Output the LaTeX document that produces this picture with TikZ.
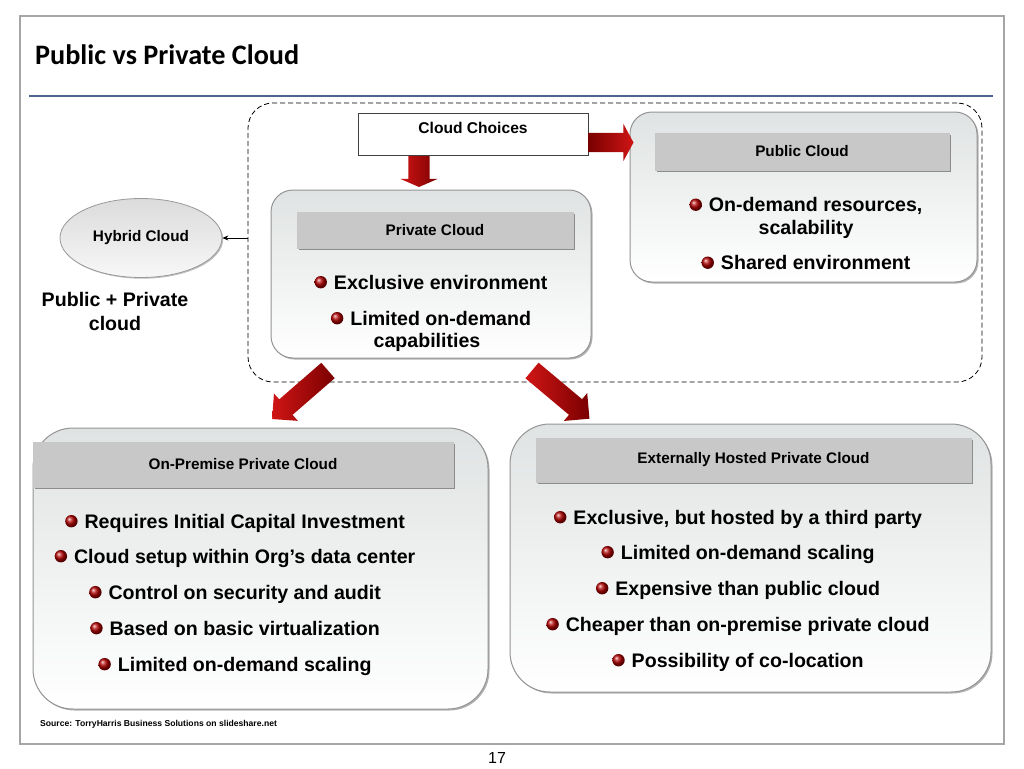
\documentclass[tikz,border=0pt]{standalone}
\usepackage{fontspec}
\setmainfont{Liberation Sans}
\newfontfamily\titlefont{Carlito}
\usetikzlibrary{shapes.geometric,shapes.arrows,shadows,calc,arrows.meta}
\definecolor{framegray}{HTML}{A6A6A6}
\definecolor{rulecol}{HTML}{4A6590}
\definecolor{boxtop}{HTML}{E0E3E3}
\definecolor{hdrfill}{HTML}{C8C8C8}
\definecolor{arrdark}{HTML}{7A0000}
\definecolor{arrlight}{HTML}{D01515}
\definecolor{ballred}{HTML}{B00000}
\newcommand{\rball}{\tikz[x=1pt,y=1pt,baseline=-6.8pt]\shade[ball color=ballred] (0,0) circle (6.2pt);\hspace{7pt}}
\begin{document}
\begin{tikzpicture}[x=1pt,y=-1pt,
  panel/.style={rectangle, rounded corners=#1, draw=black!42, line width=1pt,
    top color=boxtop, bottom color=white,
    drop shadow={shadow xshift=1.5pt, shadow yshift=-1.5pt, opacity=0.3, fill=black},
    inner sep=0pt},
  header/.style={rectangle, fill=hdrfill, draw=black!22, line width=0.8pt,
    drop shadow={shadow xshift=1.5pt, shadow yshift=-1.5pt, fill=black!45, opacity=1},
    font=\fontsize{15.3}{18}\selectfont\bfseries, inner sep=0pt},
  item/.style={font=\fontsize{19.6}{23}\selectfont\bfseries, anchor=base, inner sep=0pt},
  blockarrow/.style={single arrow, draw=none, minimum height=#1, inner xsep=0pt, outer sep=0pt, anchor=tail},
  arrowgrad/.style={shading=axis, left color=#1, right color=arrdark}
]
\useasboundingbox (0,0) rectangle (1024,768);
% slide frame and title
\draw[framegray, line width=2pt] (20,16) rectangle (1004,744);
\node[anchor=base west, inner sep=0pt, font=\titlefont\fontsize{28.2}{32}\selectfont\bfseries] (title) at (35,64) {Public vs Private Cloud};
\draw[rulecol, line width=1.2pt] (29,96) -- (993,96);

% dashed group
\node[draw, dashed, dash pattern=on 5pt off 3pt, line width=0.8pt, rounded corners=25pt,
  minimum width=734pt, minimum height=279pt, inner sep=0pt] (dash) at (615,242.5) {};

% cloud choices
\node[draw=black!75, fill=white, line width=1pt, minimum width=230pt, inner xsep=0pt, inner ysep=0pt,
  text height=19.5pt, text depth=22.5pt, font=\fontsize{15.6}{18}\selectfont\bfseries] (choices) at (473,134.5) {Cloud Choices};

% public cloud
\node[panel=22pt, minimum width=347pt, minimum height=170pt] (public) at (803.5,197) {};
\node[header, minimum width=294pt, minimum height=37pt] (pubhdr) at (802,151.5) {Public Cloud};
\node[item] (pub1) at (806,211.5) {\rball On-demand resources,};
\node[item] (pub1b) at (806,234) {scalability};
\node[item] (pub2) at (806,269.5) {\rball Shared environment};

% private cloud
\node[panel=22pt, minimum width=320pt, minimum height=168pt] (private) at (431,274) {};
\node[header, minimum width=276pt, minimum height=36pt] (privhdr) at (435,230) {Private Cloud};
\node[item] (priv1) at (431,289) {\rball Exclusive environment};
\node[item] (priv2) at (431,325) {\rball Limited on-demand};
\node[item] (priv2b) at (427,347.5) {capabilities};

% hybrid cloud
\node[ellipse, draw=black!40, line width=0.8pt, top color=black!14, bottom color=black!3,
  drop shadow={shadow xshift=1.2pt, shadow yshift=-1.2pt, opacity=0.25, fill=black},
  minimum width=162pt, minimum height=79pt, inner sep=0pt,
  font=\fontsize{15.3}{18}\selectfont\bfseries] (hybrid) at (141,238) {Hybrid Cloud};
\node[align=center, inner sep=0pt, font=\fontsize{19.6}{24}\selectfont\bfseries] (hybtxt) at (115,311) {Public + Private\\cloud};
\draw[-{Stealth[length=6pt,width=5pt]}, line width=0.8pt] (dash.west |- hybrid.east) -- (hybrid.east);

% on-premise private cloud
\node[panel=40pt, minimum width=455pt, minimum height=281pt] (onprem) at (260.5,568.5) {};
\node[header, minimum width=420pt, minimum height=45pt] (onhdr) at (243,464.5) {On-Premise Private Cloud};
\node[item] (on1) at (235,528) {\rball Requires Initial Capital Investment};
\node[item] (on2) at (235,563) {\rball Cloud setup within Org’s data center};
\node[item] (on3) at (235,599) {\rball Control on security and audit};
\node[item] (on4) at (235,635) {\rball Based on basic virtualization};
\node[item] (on5) at (235,671) {\rball Limited on-demand scaling};

% externally hosted private cloud
\node[panel=40pt, minimum width=481pt, minimum height=268pt] (ext) at (750.5,558) {};
\node[header, minimum width=435pt, minimum height=44pt] (exthdr) at (753.5,460) {Externally Hosted Private Cloud};
\node[item] (ex1) at (738,524) {\rball Exclusive, but hosted by a third party};
\node[item] (ex2) at (738,559) {\rball Limited on-demand scaling};
\node[item] (ex3) at (738,595) {\rball Expensive than public cloud};
\node[item] (ex4) at (738,631) {\rball Cheaper than on-premise private cloud};
\node[item] (ex5) at (738,667) {\rball Possibility of co-location};

% red block arrows
\node[blockarrow=45pt, inner ysep=9.5pt, single arrow head extend=9pt, single arrow tip angle=123,
  shading=axis, left color=arrdark, right color=arrlight] (arpub) at ($(choices.east)+(0,8)$) {};
\node[blockarrow=31pt, inner ysep=10.5pt, single arrow head extend=8pt, single arrow tip angle=133,
  rotate=-90, arrowgrad=arrlight] (arpriv) at ($(choices.south)+(-54,0)$) {};
\node[blockarrow=74pt, inner ysep=10pt, single arrow head extend=8pt, single arrow tip angle=90,
  rotate=221, arrowgrad=arrlight] (aron) at ($(private.south)+(-103,12)$) {};
\node[blockarrow=75pt, inner ysep=10pt, single arrow head extend=8pt, single arrow tip angle=90,
  rotate=-40, arrowgrad=arrlight] (arext) at ($(private.south)+(101,12)$) {};

% footer
\node[anchor=base west, inner sep=0pt, font=\fontsize{8.6}{10}\selectfont\bfseries] (src) at (40,726) {Source: TorryHarris Business Solutions on slideshare.net};
\node[anchor=base, inner sep=0pt, font=\fontsize{16}{18}\selectfont] (pageno) at (497,763) {17};
\end{tikzpicture}
\end{document}
